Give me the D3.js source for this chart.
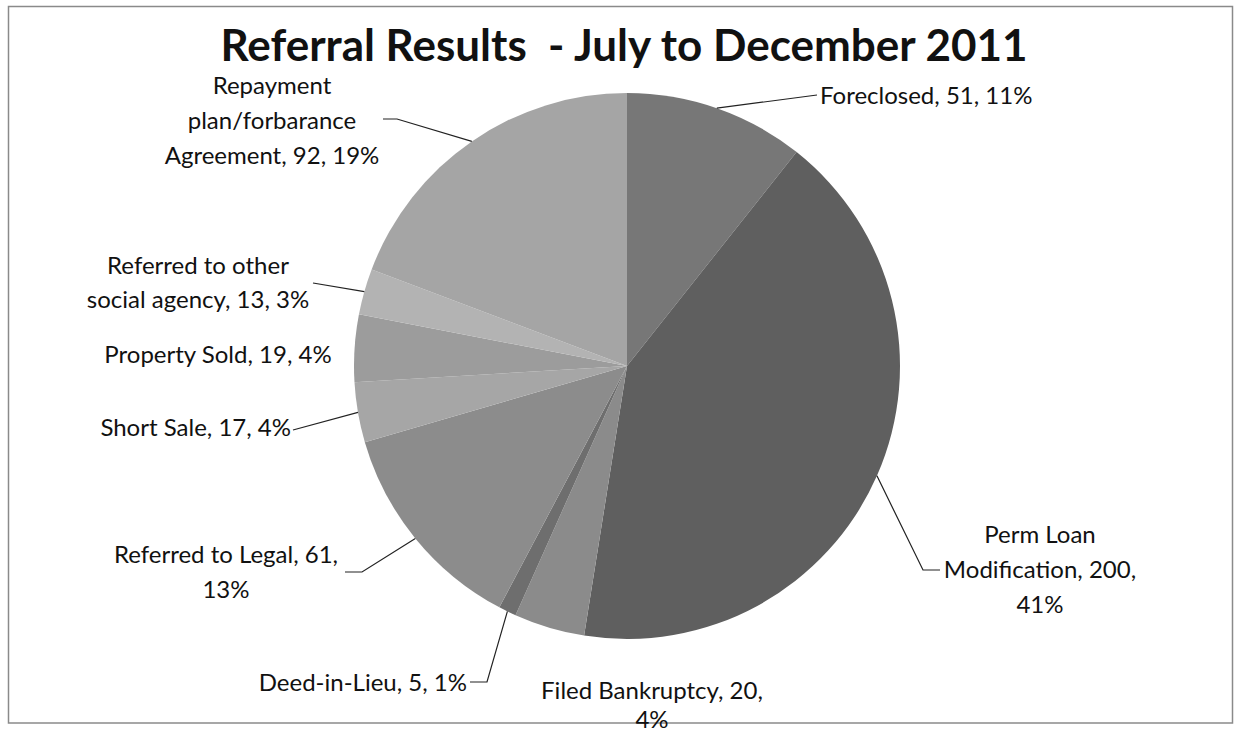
<!DOCTYPE html>
<html>
<head>
<meta charset="utf-8">
<script src="https://cdn.jsdelivr.net/npm/d3@7"></script>
<style>
  body { margin: 0; background: #fff; }
  text { font-family: Lato, "Open Sans", sans-serif; fill: #111; white-space: pre; }
</style>
</head>
<body>
<script>
// data
const categories = [
  "Foreclosed",
  "Perm Loan Modification",
  "Filed Bankruptcy",
  "Deed-in-Lieu",
  "Referred to Legal",
  "Short Sale",
  "Property Sold",
  "Referred to other social agency",
  "Repayment plan/forbarance Agreement"
];
const counts = [51, 200, 20, 5, 61, 17, 19, 13, 92];
const percentLabels = ["11%", "41%", "4%", "1%", "13%", "4%", "4%", "3%", "19%"];

// label lines as they wrap in the picture
const labelLines = [
  ["Foreclosed, 51, 11%"],
  ["Perm Loan", "Modification, 200,", "41%"],
  ["Filed Bankruptcy, 20,", "4%"],
  ["Deed-in-Lieu, 5, 1%"],
  ["Referred to Legal, 61,", "13%"],
  ["Short Sale, 17, 4%"],
  ["Property Sold, 19, 4%"],
  ["Referred to other", "social agency, 13, 3%"],
  ["Repayment", "plan/forbarance", "Agreement, 92, 19%"]
];
const fills = ["#777777", "#5f5f5f", "#8b8b8b", "#6e6e6e", "#8c8c8c", "#a6a6a6", "#9c9c9c", "#b3b3b3", "#a5a5a5"];

const w = 1234, h = 732;
const cx = 627, cy = 366, radius = 273;

// where each label sits: text x, first baseline, anchor, line gap, leader elbow/end
const layout = [
  { x: 820, y: 104, anchor: "start", gap: 35, pts: [[817, 95]] },
  { x: 1040, y: 543, anchor: "middle", gap: 35, pts: [[923, 570], [940, 570]] },
  { x: 652, y: 699, anchor: "middle", gap: 29, pts: null },
  { x: 467, y: 691, anchor: "end", gap: 35, pts: [[487, 682], [470, 682]] },
  { x: 226, y: 563, anchor: "middle", gap: 35, pts: [[362, 572], [345, 572]] },
  { x: 291, y: 436, anchor: "end", gap: 35, pts: [[293, 430]] },
  { x: 218, y: 363, anchor: "middle", gap: 35, pts: null },
  { x: 198, y: 274, anchor: "middle", gap: 34, pts: [[313, 283]] },
  { x: 272, y: 94, anchor: "middle", gap: 35, pts: [[397, 119], [383, 119]] }
];

const svg = d3.select("body").append("svg")
  .attr("width", w)
  .attr("height", h);

// outer frame
svg.append("rect")
  .attr("x", 8.5).attr("y", 6.5)
  .attr("width", 1224).attr("height", 716.5)
  .attr("fill", "none")
  .attr("stroke", "#8a8a8a")
  .attr("stroke-width", 1.5);

svg.append("text")
  .attr("x", 624)
  .attr("y", 61)
  .attr("text-anchor", "middle")
  .style("font-size", "44px")
  .style("font-weight", "bold")
  .text("Referral Results  - July to December 2011");

const pie = d3.pie().sort(null).value(d => d);
const arcs = pie(counts);
const arc = d3.arc().innerRadius(0).outerRadius(radius);

const g = svg.append("g").attr("transform", `translate(${cx},${cy})`);

g.selectAll("path")
  .data(arcs)
  .enter()
  .append("path")
  .attr("d", arc)
  .attr("fill", (d, i) => fills[i]);

// leader lines start at the rim in the middle of each slice
arcs.forEach((d, i) => {
  const L = layout[i];
  if (!L.pts) return;
  const a = (d.startAngle + d.endAngle) / 2;
  const start = [cx + radius * Math.sin(a), cy - radius * Math.cos(a)];
  svg.append("path")
    .attr("d", d3.line()([start].concat(L.pts)))
    .attr("fill", "none")
    .attr("stroke", "#222")
    .attr("stroke-width", 1.2);
});

labelLines.forEach((lines, i) => {
  const L = layout[i];
  const t = svg.append("text")
    .attr("text-anchor", L.anchor)
    .style("font-size", "24px");
  lines.forEach((s, j) => {
    t.append("tspan").attr("x", L.x).attr("y", L.y + j * L.gap).text(s);
  });
});
</script>
</body>
</html>
